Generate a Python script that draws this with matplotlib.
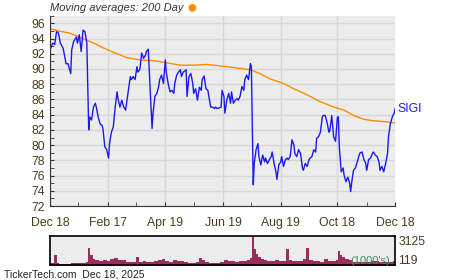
import matplotlib
matplotlib.use('Agg')
import matplotlib.pyplot as plt
from matplotlib.ticker import MultipleLocator

plt.rcParams['font.family'] = ['Liberation Sans', 'DejaVu Sans']

# 价格数据 (天数从 2024-12-18 起算)
price_days = [0, 3, 5, 7, 9, 11, 14, 17, 19, 22, 23, 25, 28, 29, 31, 33, 35, 37, 39, 41,
              42, 44, 46, 48, 49, 51, 53, 55, 56, 58, 60, 62, 63, 65, 67, 69, 71, 72, 74, 76,
              78, 80, 82, 85, 86, 88, 90, 92, 93, 95, 97, 99, 101, 102, 104, 106, 108, 109, 111, 113,
              115, 116, 118, 120, 122, 123, 125, 127, 129, 131, 132, 134, 136, 138, 139, 141, 144, 145, 147, 149,
              151, 152, 154, 156, 158, 160, 161, 163, 165, 167, 168, 170, 172, 174, 175, 177, 179, 181, 182, 184,
              185, 187, 189, 191, 192, 194, 196, 198, 199, 201, 203, 205, 206, 208, 210, 212, 213, 215, 216, 218,
              220, 221, 223, 225, 227, 228, 230, 232, 234, 235, 237, 239, 240, 242, 244, 245, 247, 249, 251, 252,
              254, 256, 258, 259, 261, 263, 265, 267, 268, 270, 272, 274, 275, 277, 279, 281, 282, 284, 286, 288,
              289, 291, 293, 295, 296, 298, 300, 302, 304, 305, 306, 308, 310, 311, 313, 315, 317, 318, 319, 321,
              323, 325, 327, 328, 330, 332, 334, 335, 337, 339, 341, 342, 344, 346, 348, 349, 351, 353, 355, 357,
              358, 360, 362, 364, 365]
price = [92.5, 93.4, 93.2, 94.9, 94.7, 93.4, 92.7, 90.7, 90.7, 89.4, 92.5, 93.6, 94.2, 93.4, 94.5, 92.3, 95.1, 94.9, 93.4, 82.0,
         83.7, 83.3, 85.0, 85.5, 85.0, 83.7, 82.8, 82.6, 82.2, 79.8, 79.4, 78.3, 80.2, 81.7, 82.4, 85.0, 87.0, 86.1, 85.0, 85.9,
         85.0, 84.6, 86.4, 89.0, 88.6, 89.0, 88.6, 90.3, 89.6, 89.9, 92.1, 91.4, 91.8, 92.3, 92.6, 87.2, 82.2, 84.2, 86.4, 86.8,
         87.7, 88.6, 89.2, 88.1, 91.2, 89.6, 88.1, 87.0, 87.2, 86.8, 88.1, 89.2, 89.6, 89.9, 89.0, 89.6, 89.9, 86.4, 89.0, 89.4,
         88.1, 86.8, 87.4, 85.9, 87.6, 87.2, 88.6, 89.1, 87.4, 87.2, 86.4, 85.0, 85.0, 84.8, 85.0, 84.8, 84.9, 85.0, 87.2, 86.4,
         84.2, 85.9, 86.8, 85.5, 87.0, 85.5, 85.9, 86.1, 85.9, 86.4, 87.7, 87.2, 88.6, 89.2, 88.6, 90.7, 90.3, 74.8, 77.6, 79.4,
         80.2, 78.5, 77.4, 78.7, 77.8, 78.3, 77.6, 78.1, 78.5, 79.1, 77.6, 76.5, 75.5, 77.4, 77.8, 78.5, 77.2, 78.1, 78.3, 78.1,
         78.5, 80.7, 80.0, 78.9, 78.5, 79.4, 78.9, 77.0, 76.7, 77.6, 77.2, 78.1, 78.3, 78.5, 79.4, 79.1, 80.9, 81.1, 81.7, 83.7,
         83.9, 83.9, 83.0, 81.7, 81.9, 83.9, 81.1, 80.5, 83.7, 83.7, 79.8, 76.5, 77.0, 76.1, 75.2, 75.8, 75.0, 73.9, 75.0, 76.7,
         77.0, 77.8, 78.7, 79.0, 79.1, 78.1, 77.6, 76.7, 78.1, 78.3, 78.9, 79.1, 78.7, 78.5, 77.8, 76.7, 77.2, 76.5, 77.6, 78.9,
         81.1, 82.8, 83.7, 84.2, 84.8]

# 200日均线
ma_days = [0, 9, 21, 35, 46, 56, 69, 81, 95, 109, 124, 138, 152, 166, 180, 194, 212, 222, 233, 247,
           258, 272, 286, 300, 311, 321, 332, 342, 353, 365]
ma200 = [95.3, 95.0, 94.7, 94.0, 93.4, 92.8, 92.1, 91.5, 91.2, 91.1, 90.8, 90.5, 90.5, 90.6, 90.4, 90.2, 89.9, 89.4, 88.7, 88.1,
         87.4, 86.6, 85.7, 85.0, 84.6, 83.9, 83.4, 83.2, 83.1, 82.9]

# 成交量 (千股)
vol_days = [0, 2, 4, 7, 10, 14, 18, 22, 26, 30, 34, 38, 40, 42, 45, 48, 52, 56, 60, 64,
            68, 72, 76, 80, 84, 88, 91, 94, 98, 102, 106, 110, 114, 118, 122, 126, 130, 134, 138, 142,
            146, 150, 154, 158, 161, 164, 168, 172, 176, 180, 184, 188, 192, 196, 200, 204, 208, 212, 214, 216,
            218, 220, 223, 226, 230, 234, 238, 242, 246, 250, 253, 256, 260, 264, 268, 271, 274, 278, 282, 286,
            290, 294, 298, 302, 305, 307, 309, 312, 316, 320, 324, 328, 332, 336, 340, 344, 348, 352, 356, 360, 363, 365]
vol = [300, 330, 1190, 350, 200, 260, 260, 280, 300, 300, 330, 450, 1880, 1190, 775, 600, 500, 600, 550, 775,
       845, 600, 640, 450, 420, 380, 950, 400, 500, 450, 420, 550, 600, 775, 500, 420, 640, 560, 500, 450,
       350, 330, 400, 845, 600, 420, 350, 300, 330, 420, 640, 500, 480, 450, 500, 520, 600, 850, 3125, 1810,
       1290, 950, 700, 600, 550, 480, 600, 520, 500, 1810, 600, 500, 480, 520, 780, 1880, 600, 500, 520, 450,
       780, 500, 480, 600, 1570, 1100, 950, 780, 600, 450, 400, 380, 420, 450, 500, 480, 450, 420, 400, 450, 500, 500]

tick_days = [0, 61, 122, 183, 244, 304, 365]
tick_labels = ['Dec 18', 'Feb 17', 'Apr 19', 'Jun 19', 'Aug 19', 'Oct 18', 'Dec 18']

txt = '#4a3c1c'
fig = plt.figure(figsize=(4.5, 2.8), dpi=100)

# 主图
ax = fig.add_axes([0.111, 0.264, 0.767, 0.68])
ax.set_facecolor('#ececec')
ax.plot(ma_days, ma200, color='#ff8c00', lw=1.0)
ax.plot(price_days, price, color='#1a1aee', lw=1.0)
ax.set_xlim(0, 365)
ax.set_ylim(72, 97)
ax.yaxis.set_major_locator(MultipleLocator(2))
ax.yaxis.set_minor_locator(MultipleLocator(1))
ax.set_xticks(tick_days)
ax.set_xticklabels(tick_labels)
ax.set_xticks([30, 91, 152, 213, 274, 335], minor=True)
ax.grid(True, which='major', color='#d6d6d6', lw=1)
ax.set_axisbelow(True)
ax.tick_params(which='both', direction='in', colors='#333333', labelcolor=txt, labelsize=8.8, length=3)
ax.tick_params(axis='x', pad=8)
for s in ['top', 'right']:
    ax.spines[s].set_visible(False)
ax.spines['left'].set_color('#333333')
ax.spines['bottom'].set_color('#333333')
ax.text(367, price[-1], 'SIGI', color='#1a1aee', fontsize=8.8, va='center', ha='left')

# 图例
fig.text(0.111, 0.97, 'Moving averages: 200 Day', fontsize=8, style='italic', color='#333333', va='center')
fig.text(0.427, 0.972, '\u25cf', fontsize=13, color='#ff8c00', va='center', ha='center')

# 成交量
axv = fig.add_axes([0.111, 0.054, 0.767, 0.103])
axv.set_facecolor('#ececec')
axv.fill_between(vol_days, vol, 0, step='post', color='#9b2d5e', lw=0)
axv.set_xlim(0, 365)
axv.set_ylim(119, 3125)
axv.set_xticks([])
axv.set_yticks([])
for s in axv.spines.values():
    s.set_color('black')
    s.set_linewidth(1.2)
axv.text(1.01, 0.78, '3125', transform=axv.transAxes, fontsize=8.8, color=txt, va='center')
axv.text(1.01, 0.12, '119', transform=axv.transAxes, fontsize=8.8, color=txt, va='center')
axv.text(0.985, 0.12, "(1000's)", transform=axv.transAxes, fontsize=8, color='#3f8f5f', va='center', ha='right')

fig.text(0.01, 0.02, 'TickerTech.com  Dec 18, 2025', fontsize=7.5, color='#222222', va='center')

fig.savefig('out.png', dpi=100)
